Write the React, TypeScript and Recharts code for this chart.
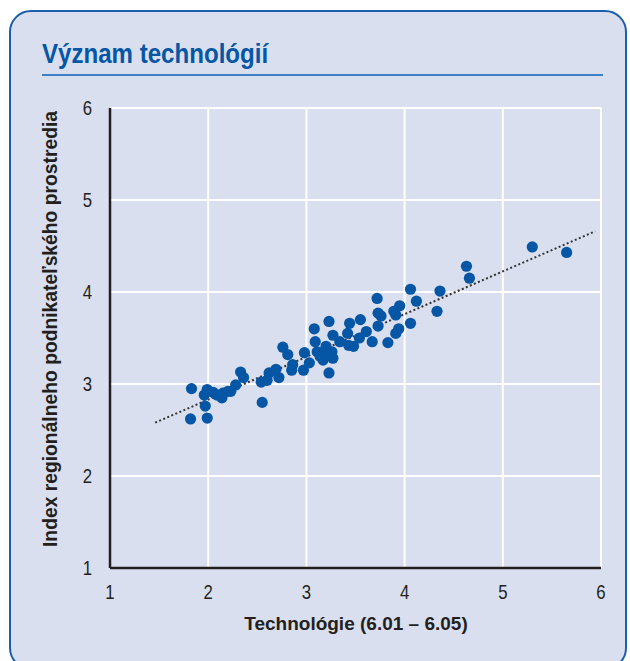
import { ScatterChart, Scatter, XAxis, YAxis, CartesianGrid, ReferenceLine } from "recharts";

// Technológie (6.01 – 6.05) vs. regional index, one entry per region
const techScores = [
  1.83, 1.82, 1.99, 1.97, 1.96, 1.99, 2.05, 2.09, 2.14, 2.15, 2.2, 2.23, 2.28, 2.33, 2.36,
  2.54, 2.55, 2.6, 2.62, 2.69, 2.72, 2.76, 2.81, 2.85, 2.86, 2.97, 2.98, 3.03, 3.08, 3.09,
  3.11, 3.17, 3.18, 3.21, 3.23, 3.23, 3.26, 3.27, 3.27, 3.34, 3.42, 3.44, 3.43, 3.48, 3.54,
  3.55, 3.61, 3.67, 3.72, 3.73, 3.76, 3.73, 3.83, 3.89, 3.91, 3.95, 3.91, 3.94, 4.06, 4.06,
  4.12, 4.33, 4.36, 4.63, 4.66, 5.3, 5.65, 3.14, 3.2,
];
const indexScores = [
  2.95, 2.62, 2.63, 2.76, 2.88, 2.94, 2.91, 2.88, 2.85, 2.9, 2.92, 2.92, 2.99, 3.13, 3.07,
  3.02, 2.8, 3.04, 3.12, 3.16, 3.07, 3.4, 3.32, 3.15, 3.21, 3.15, 3.34, 3.23, 3.6, 3.46,
  3.35, 3.26, 3.35, 3.32, 3.68, 3.12, 3.35, 3.53, 3.28, 3.46, 3.55, 3.66, 3.42, 3.41, 3.5,
  3.7, 3.57, 3.46, 3.93, 3.77, 3.74, 3.63, 3.45, 3.79, 3.75, 3.85, 3.55, 3.6, 3.66, 4.03,
  3.9, 3.79, 4.01, 4.28, 4.15, 4.49, 4.43, 3.3, 3.41,
];
const axisTicks = [1, 2, 3, 4, 5, 6];
const trendX = [1.46, 5.94];
const trendY = [2.58, 4.66];

const points = techScores.map((x, i) => ({ x, y: indexScores[i] }));

const FONT = '"Liberation Sans Narrow", "Arial Narrow", "Liberation Sans", sans-serif';
const INK = "#231f20";
const BLUE = "#0656a6";
const SQUEEZE = 0.84;

const Dot = (props: any) => <circle cx={props.cx} cy={props.cy} r={5.6} fill={BLUE} />;

// narrow-looking tick text: squeeze horizontally around the anchor point
const NarrowTick = (props: any) => {
  const { x, y, payload, textAnchor } = props;
  return (
    <g transform={`translate(${x},${y}) scale(${SQUEEZE},1)`}>
      <text x={0} y={0} dy="0.36em" textAnchor={textAnchor} fill={INK} fontSize={20} fontFamily={FONT}>
        {payload.value}
      </text>
    </g>
  );
};

export default function App() {
  return (
    <div style={{ position: "absolute", left: 0, top: 0, width: 630, height: 661, fontFamily: FONT }}>
      <div
        style={{
          position: "absolute",
          left: 9,
          top: 10,
          width: 618,
          height: 660,
          boxSizing: "border-box",
          border: "2px solid #1c5ea9",
          borderRadius: 22,
          background: "#d9dfef",
        }}
      />
      <div
        style={{
          position: "absolute",
          left: 42,
          top: 37,
          fontSize: 28,
          fontWeight: 700,
          color: BLUE,
          lineHeight: "34px",
          whiteSpace: "nowrap",
          transform: "scaleX(0.86)",
          transformOrigin: "left center",
        }}
      >
        Význam technológií
      </div>
      <div style={{ position: "absolute", left: 42, top: 74, width: 561, height: 2, background: "#3f80c4" }} />
      <div style={{ position: "absolute", left: 0, top: 0 }}>
        <ScatterChart width={630} height={661} margin={{ top: 108, right: 29, bottom: 33, left: 50 }}>
          <CartesianGrid stroke="#ffffff" strokeWidth={2} />
          <XAxis
            type="number"
            dataKey="x"
            domain={[1, 6]}
            ticks={axisTicks}
            height={60}
            tickLine={false}
            tickMargin={18}
            axisLine={{ stroke: INK, strokeWidth: 2.5 }}
            tick={NarrowTick}
            label={{
              content: () => (
                <text x={356} y={630} textAnchor="middle" fill={INK} fontSize={19} fontWeight={700} fontFamily={FONT}>
                  Technológie (6.01 – 6.05)
                </text>
              ),
            }}
          />
          <YAxis
            type="number"
            dataKey="y"
            domain={[1, 6]}
            ticks={axisTicks}
            width={60}
            tickLine={false}
            tickMargin={12}
            axisLine={{ stroke: INK, strokeWidth: 2.5 }}
            tick={NarrowTick}
            label={{
              content: () => (
                <text
                  x={57}
                  y={329}
                  transform="rotate(-90 57 329)"
                  textAnchor="middle"
                  fill={INK}
                  fontSize={19.3}
                  fontWeight={700}
                  fontFamily={FONT}
                >
                  Index regionálneho podnikateľského prostredia
                </text>
              ),
            }}
          />
          <Scatter data={points} shape={Dot} isAnimationActive={false} />
          <ReferenceLine
            segment={[
              { x: trendX[0], y: trendY[0] },
              { x: trendX[1], y: trendY[1] },
            ]}
            stroke="#333333"
            strokeWidth={2}
            strokeDasharray="2 2.4"
            ifOverflow="visible"
          />
        </ScatterChart>
      </div>
    </div>
  );
}
